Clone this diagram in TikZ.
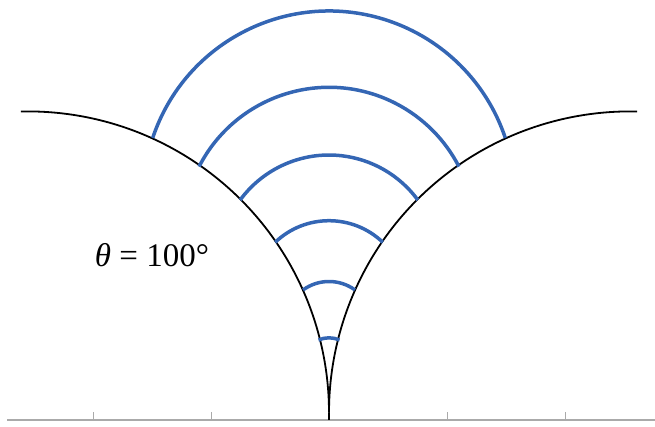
\documentclass[tikz,border=0pt]{standalone}
\usepackage{fontspec}
\setmainfont{Liberation Serif}
\definecolor{arcblue}{RGB}{52,102,180}
\definecolor{axisgray}{RGB}{170,170,170}
\tikzset{
  geod/.style={black, line width=1.8pt},
  blue arc/.style={arcblue, line width=3.5pt},
  axisline/.style={axisgray, line width=1.2pt},
  tick/.style={axisgray, line width=1pt},
}
\begin{document}
\begin{tikzpicture}[x=1pt,y=1pt]
\useasboundingbox (0,0) rectangle (655,426);
% axis
\draw[axisline] (7,6) -- (655,6);
\foreach \t in {93,211,329,447,565}
  \draw[tick] (\t,6) -- (\t,14);
% black geodesics
\coordinate (cl) at (27.8,13.4);
\coordinate (cr) at (630.2,13.4);
\coordinate (cusp) at (329,13.4);
\coordinate (foot) at (329,6);
\draw[geod] ([shift={(91.3:301.2)}]cl) arc[start angle=91.3, end angle=0, radius=301.2];
\draw[geod] ([shift={(88.7:301.2)}]cr) arc[start angle=88.7, end angle=180, radius=301.2];
\draw[geod] (cusp) -- (foot);
% blue arcs
\foreach \cy/\r/\a in {229.1/185.9/18.5, 192.6/146.1/27.2, 160.8/110.2/36.3, 127.5/77.8/46.3, 100.4/44.1/54, 62.4/25.8/66}{
  \draw[blue arc] ([shift={(180-\a:\r)}]329,\cy) arc[start angle=180-\a, end angle=\a, radius=\r];
}
\node[font=\fontsize{33}{40}\selectfont] (lbl) at (152,171) {\textit{θ} = 100°};
\end{tikzpicture}
\end{document}
